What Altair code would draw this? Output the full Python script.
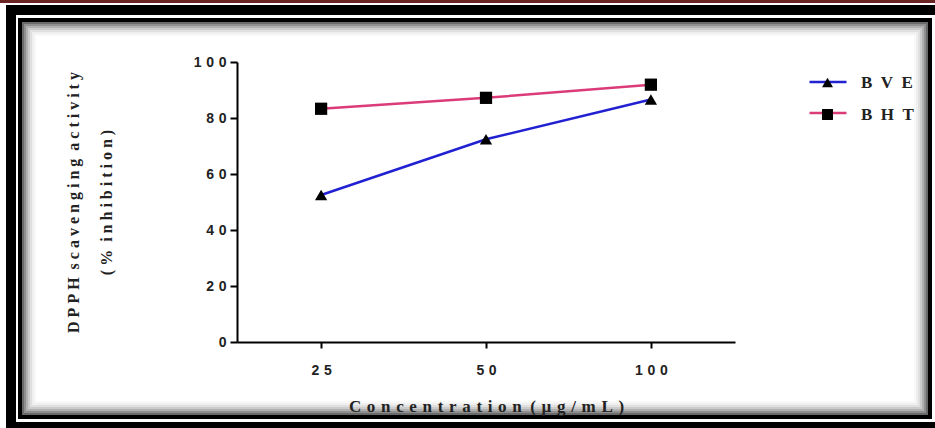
import altair as alt
import pandas as pd

concentrations = [25, 50, 100]
bve = [52.5, 72.4, 86.6]
bht = [83.3, 87.2, 91.9]
series_names = ["BVE", "BHT"]
y_ticks = [0, 20, 40, 60, 80, 100]

BLUE = "#2121d2"
PINK = "#dc3b7a"


def spaced(text, gap):
    """letter-spaced look of the original figure"""
    words = text.split(" ")
    return "\u2002".join(gap.join(w) for w in words)


rows = []
for name, vals in zip(series_names, [bve, bht]):
    for c, v in zip(concentrations, vals):
        rows.append({"Concentration": c, "Value": v, "Series": name})
df = pd.DataFrame(rows)

# plot origin in page coordinates
OX, OY = 237, 62
W, H = 498, 280


def deco_rect(x1, y1, x2, y2, fill=None, stroke=None, sw=1):
    """decorative frame rectangle given in page pixels"""
    kw = {}
    if fill is not None:
        kw["fill"] = fill
        kw["strokeWidth"] = 0
    else:
        kw["fillOpacity"] = 0
        kw["stroke"] = stroke
        kw["strokeWidth"] = sw
    return alt.Chart(df).mark_rect(**kw).encode(
        x=alt.value(x1 - OX), x2=alt.value(x2 - OX),
        y=alt.value(y1 - OY), y2=alt.value(y2 - OY),
    ).transform_filter("datum.Concentration == 25 && datum.Series == 'BVE'")


frame = [
    deco_rect(0, 0, 935, 3, fill="#6b2424"),
    deco_rect(6, 5, 935, 15, fill="black"),
    deco_rect(6, 5, 16, 428, fill="black"),
    deco_rect(6, 422, 935, 428, fill="black"),
]
shadow_cols = ["#6a6a6a", "#8f8f8f", "#b0b0b0", "#cbcbcb", "#e0e0e0", "#efefef", "#f8f8f8"]
for i, col in enumerate(shadow_cols):
    d = 23 + 2 * i
    frame.append(deco_rect(d, d, 932 - (d - 18), 419 - (d - 18), stroke=col, sw=2))
frame.append(deco_rect(20, 20, 930, 417, stroke="black", sw=4))

TICK_GAP = "\u2004"
x_enc = alt.X(
    "Concentration:O",
    sort=concentrations,
    scale=alt.Scale(type="point", padding=0.51),
    axis=alt.Axis(
        title=spaced("Concentration (µg/mL)", "\u2004"),
        labelAngle=0,
        labelExpr=f"join(split(datum.label, ''), '{TICK_GAP}')",
        labelFont="Liberation Sans", labelFontWeight="bold", labelFontSize=14,
        labelColor="#222222", labelPadding=15,
        tickSize=6, tickWidth=2, tickColor="black",
        domainColor="black", domainWidth=2,
        titleFont="Liberation Serif", titleFontWeight="bold", titleFontSize=17,
        titleColor="#222222", titlePadding=21,
        zindex=1,
    ),
)
y_enc = alt.Y(
    "Value:Q",
    scale=alt.Scale(domain=[0, 100]),
    axis=alt.Axis(
        values=y_ticks,
        grid=False,
        title=[spaced("DPPH scavenging activity", "\u2005"),
               spaced("(% inhibition)", "\u2005")],
        labelExpr=f"join(split(datum.label, ''), '{TICK_GAP}')",
        labelFont="Liberation Sans", labelFontWeight="bold", labelFontSize=14,
        labelColor="#222222", labelPadding=4,
        tickSize=7, tickWidth=2, tickColor="black",
        domainColor="black", domainWidth=2,
        titleFont="Liberation Serif", titleFontWeight="bold", titleFontSize=16,
        titleColor="#222222", titleLineHeight=33, titlePadding=79,
        zindex=1,
    ),
)

lines = alt.Chart(df).mark_line(strokeWidth=2.5).encode(
    x=x_enc,
    y=y_enc,
    color=alt.Color(
        "Series:N",
        scale=alt.Scale(domain=series_names, range=[BLUE, PINK]),
        legend=alt.Legend(
            orient="none", legendX=571, legendY=0, title=None, padding=0,
            symbolType="stroke", symbolSize=1369, symbolStrokeWidth=2.5,
            labelExpr="''", rowPadding=6,
        ),
    ),
)

points = alt.Chart(df).transform_calculate(Marker="datum.Series").mark_point(
    filled=True, size=150, opacity=1
).encode(
    x=x_enc,
    y=y_enc,
    color=alt.value("black"),
    shape=alt.Shape(
        "Marker:N",
        sort=series_names,
        scale=alt.Scale(range=["triangle-up", "square"]),
        legend=alt.Legend(
            orient="none", legendX=582, legendY=12, title=None, padding=0,
            symbolFillColor="black", symbolStrokeColor="black", symbolSize=120,
            symbolOpacity=1,
            labelExpr="join(split(datum.label, ''), '\u2002')",
            labelFont="Liberation Serif", labelFontWeight="bold", labelFontSize=17,
            labelColor="#222222", labelOffset=25, rowPadding=14,
        ),
    ),
)

chart = alt.layer(*frame, lines, points).properties(
    width=W, height=H,
    padding={"left": OX, "top": OY, "right": 935 - OX - W, "bottom": 428 - OY - H},
    autosize=alt.AutoSizeParams(type="none"),
    background="white",
).configure_view(strokeWidth=0)

chart.save("out.html", embed_options={"renderer": "svg", "actions": False})
